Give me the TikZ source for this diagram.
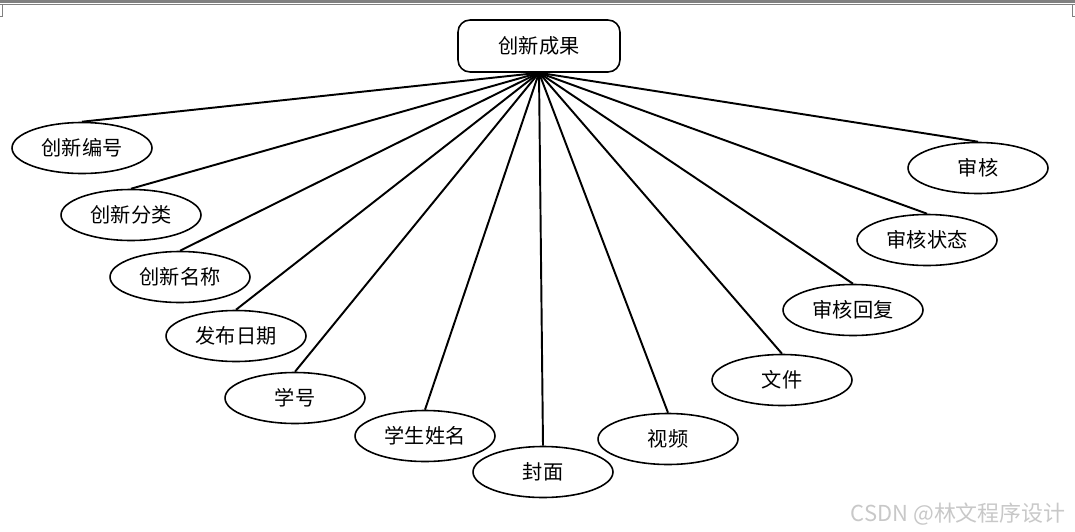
\documentclass[tikz,border=0pt]{standalone}
\usepackage{fontspec}
\usepackage{xcolor}
\usepackage{tikz}
\usetikzlibrary{shapes.geometric}
\setmainfont{Noto Sans CJK SC}
\definecolor{FrameGray}{HTML}{808080}
\definecolor{MarkGray}{HTML}{C8C8C8}

\begin{document}
\begin{tikzpicture}[
    x=0.02cm, y=-0.02cm,
    entity/.style={rectangle, draw=black, rounded corners=0.24cm, line width=0.9pt, minimum width=3.24cm, minimum height=1.04cm, font=\fontsize{11.5}{14}\selectfont},
    attr/.style={ellipse, draw=black, line width=0.9pt, inner sep=0pt, minimum width=2.8cm, minimum height=1.02cm, font=\fontsize{11.5}{14}\selectfont},
    link/.style={line width=1.1pt, black}
]
\useasboundingbox (0,0) rectangle (1075,531);

% Frame
\draw[FrameGray, line width=1.2pt] (0,1.5) -- (1075,1.5);
\draw[FrameGray, line width=0.4pt] (0,4.5) -- (1075,4.5);
\draw[FrameGray, line width=0.4pt] (2.5,4.5) -- (2.5,16) -- (0,16);
\draw[FrameGray, line width=0.4pt] (1072.5,4.5) -- (1072.5,16) -- (1075,16);

% Nodes
\node[entity] (result) at (539,46) {创新成果};
\node[attr] (code) at (82,148) {创新编号};
\node[attr] (kind) at (131,215) {创新分类};
\node[attr] (title) at (180,277) {创新名称};
\node[attr] (date) at (236,336) {发布日期};
\node[attr] (sno) at (295,398) {学号};
\node[attr] (sname) at (425,436) {学生姓名};
\node[attr] (cover) at (543,472) {封面};
\node[attr] (video) at (668,439) {视频};
\node[attr] (file) at (782,380) {文件};
\node[attr] (reply) at (853,310) {审核回复};
\node[attr] (status) at (927,240) {审核状态};
\node[attr] (review) at (978,168) {审核};

% Links
\foreach \n in {code,kind,title,date,sno,sname,cover,video,file,reply,status,review}
    \draw[link] (result.south) -- (\n.north);

% Watermark
\node[text=MarkGray, font=\fontsize{12.5}{14}\selectfont, anchor=east] (mark) at (1072,514) {CSDN @林文程序设计};

\end{tikzpicture}
\end{document}
